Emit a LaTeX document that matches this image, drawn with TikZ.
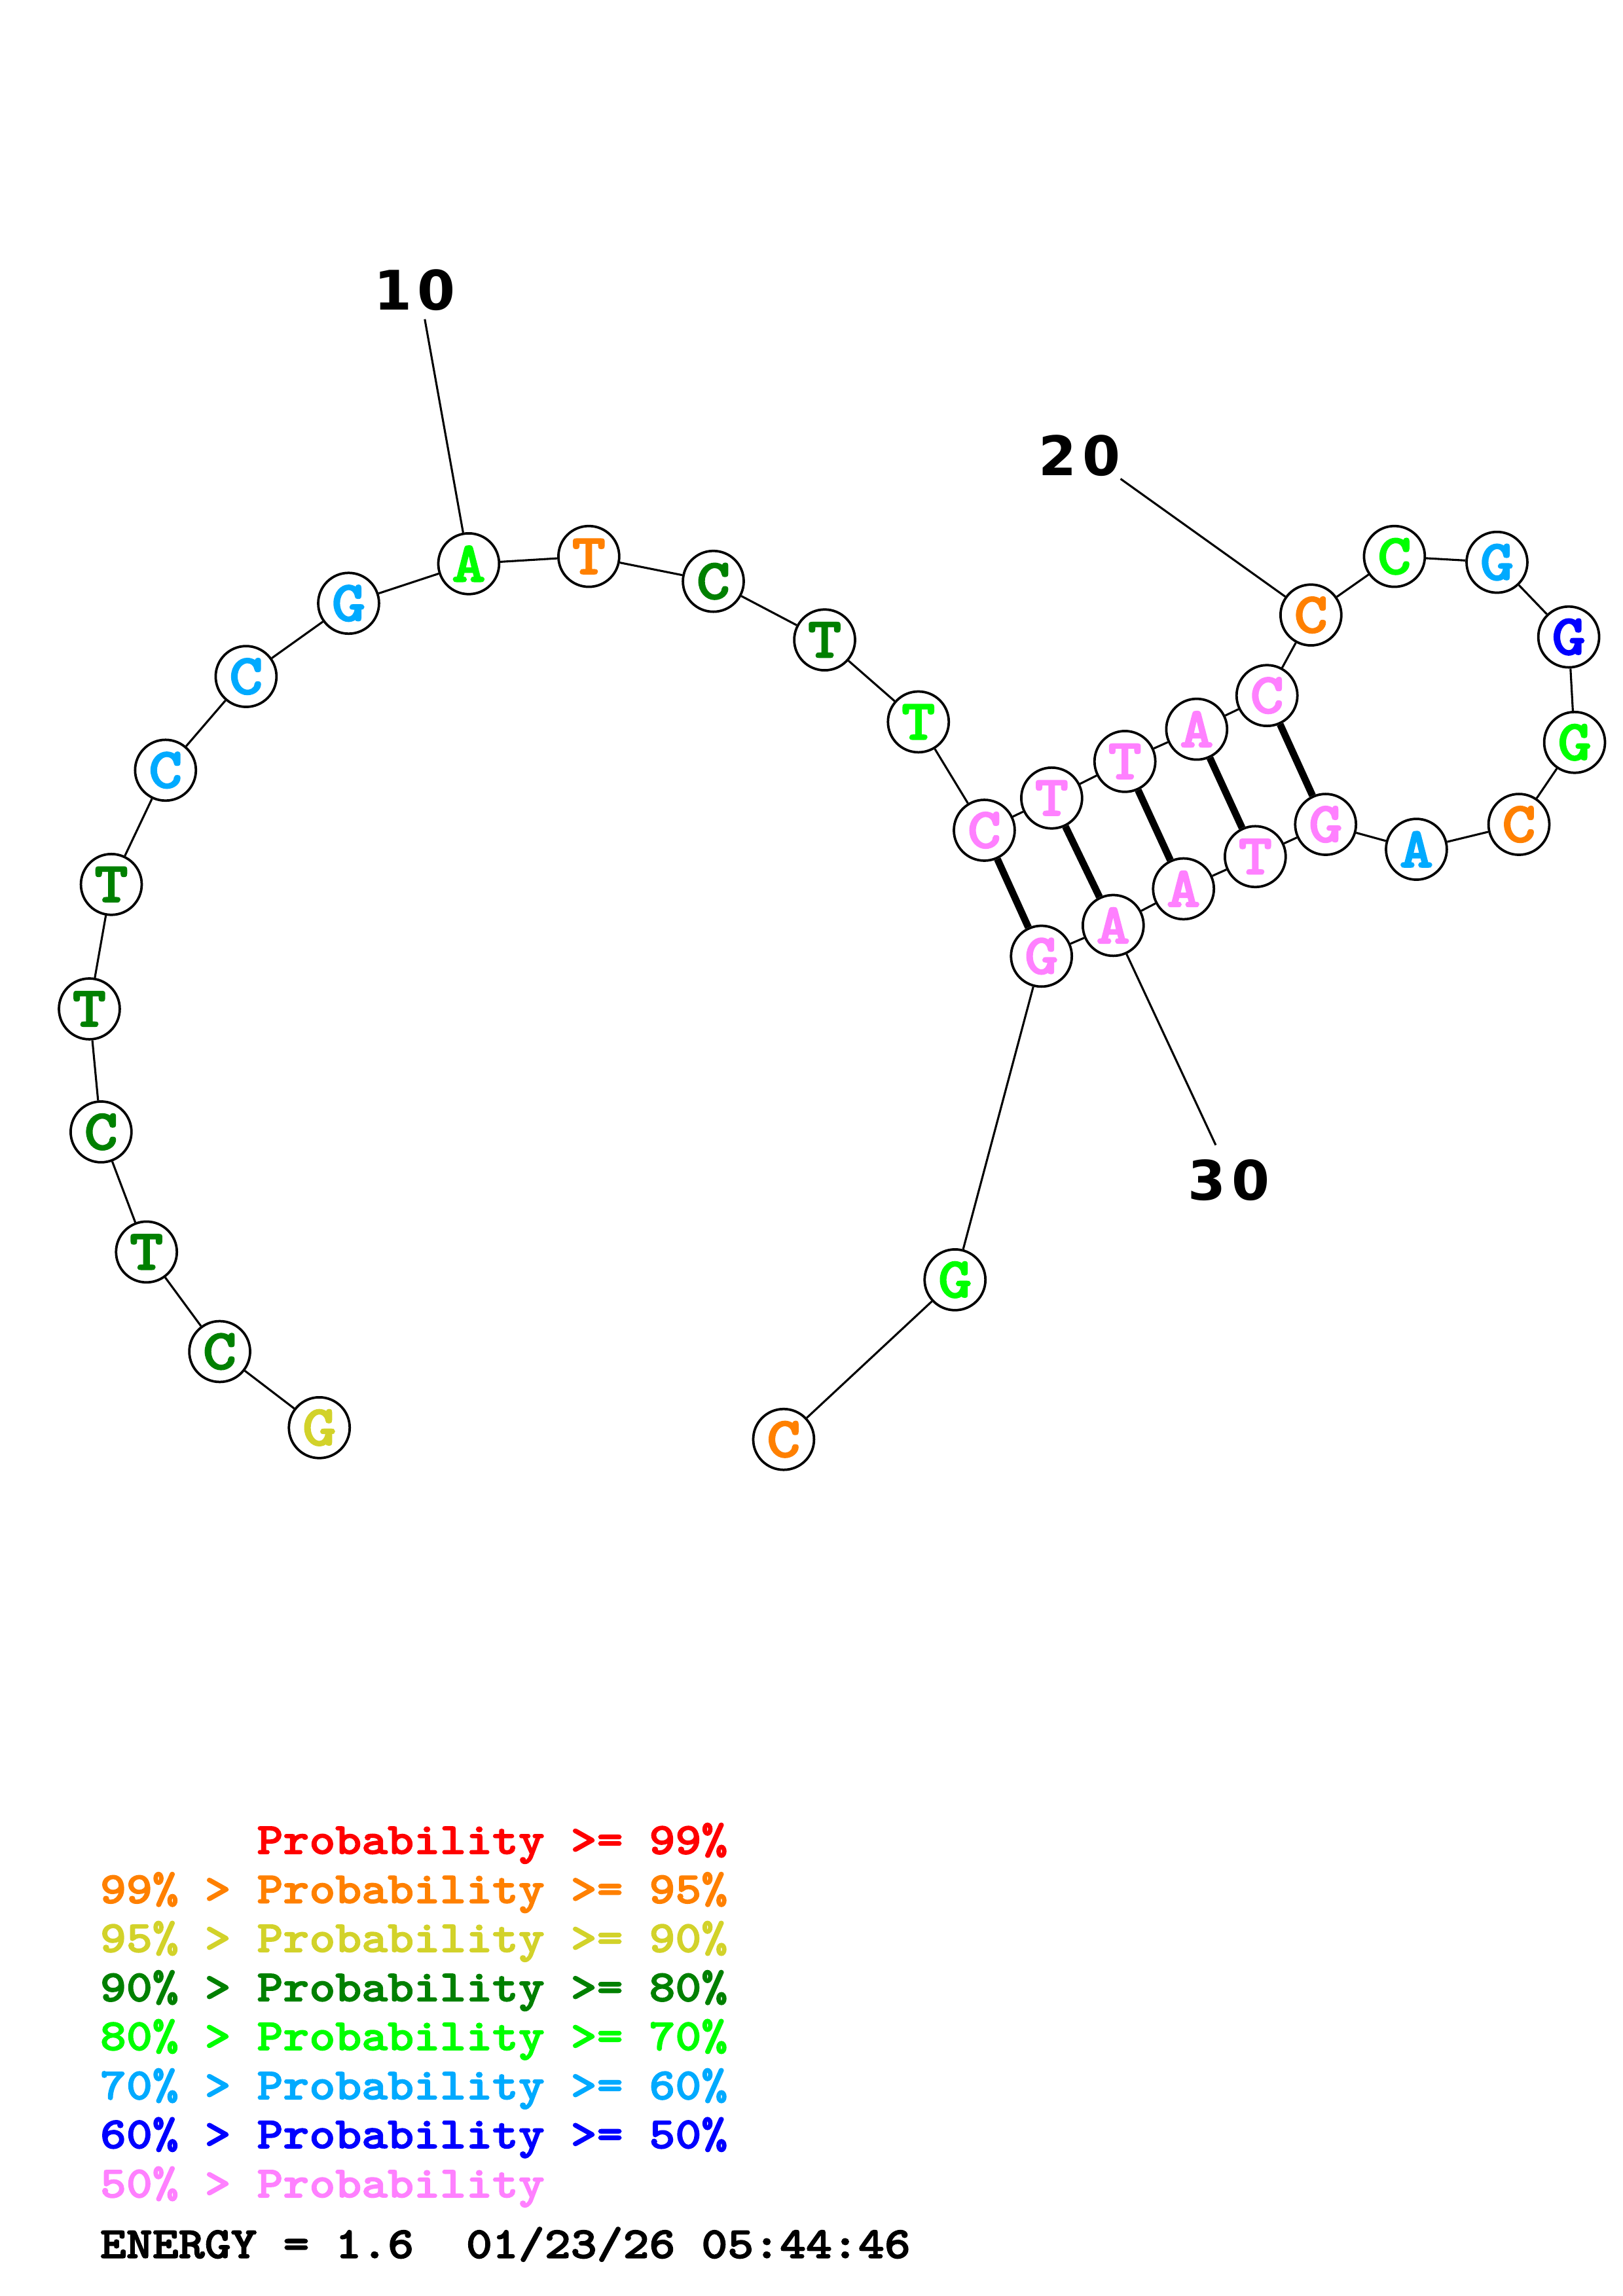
\documentclass[tikz,border=0pt]{standalone}
\usepackage{fontspec}
\newfontfamily\monof{lmmonolt10-bold.otf}[FakeStretch=1.12,FakeBold=2.2]
\newfontfamily\numf{DejaVu Sans}
\definecolor{cred}{HTML}{FF0000}
\definecolor{corange}{HTML}{FF8000}
\definecolor{cyellow}{HTML}{D2D22A}
\definecolor{cdkgreen}{HTML}{008000}
\definecolor{cgreen}{HTML}{00FF00}
\definecolor{cltblue}{HTML}{00AAFF}
\definecolor{cblue}{HTML}{0000FF}
\definecolor{cpink}{HTML}{FF80FF}
\tikzset{
  nt/.style={circle, draw=black, fill=white, line width=0.9pt, minimum size=22.3pt, inner sep=0pt,
    font=\monof\fontsize{21}{21}\selectfont},
  bb/.style={line width=0.75pt, black},
  pr/.style={line width=2.6pt, black},
  num/.style={font=\numf\bfseries\fontsize{20}{20}\selectfont, inner sep=0pt},
  leg/.style={font=\monof\fontsize{16.3}{16.3}\selectfont, anchor=base west, inner sep=0pt}
}
\begin{document}
\begin{tikzpicture}[x=0.537pt, y=-0.537pt]
\useasboundingbox (0,0) rectangle (1108,1568);
% label anchors
\coordinate (l10) at (290,218);
\coordinate (l20) at (765,327);
\coordinate (l30) at (830,782);
% nucleotides
\node[nt, text=cyellow]   (n1)  at (218,975) {G};
\node[nt, text=cdkgreen]  (n2)  at (150,923) {C};
\node[nt, text=cdkgreen]  (n3)  at (100,855) {T};
\node[nt, text=cdkgreen]  (n4)  at (69,773)  {C};
\node[nt, text=cdkgreen]  (n5)  at (61,689)  {T};
\node[nt, text=cdkgreen]  (n6)  at (76,604)  {T};
\node[nt, text=cltblue]   (n7)  at (113,526) {C};
\node[nt, text=cltblue]   (n8)  at (168,462) {C};
\node[nt, text=cltblue]   (n9)  at (238,412) {G};
\node[nt, text=cgreen]    (n10) at (320,385) {A};
\node[nt, text=corange]   (n11) at (402,380) {T};
\node[nt, text=cdkgreen]  (n12) at (487,397) {C};
\node[nt, text=cdkgreen]  (n13) at (563,437) {T};
\node[nt, text=cgreen]    (n14) at (627,493) {T};
\node[nt, text=cpink]     (n15) at (672,567) {C};
\node[nt, text=cpink]     (n16) at (718,545) {T};
\node[nt, text=cpink]     (n17) at (768,520) {T};
\node[nt, text=cpink]     (n18) at (817,498) {A};
\node[nt, text=cpink]     (n19) at (865,475) {C};
\node[nt, text=corange]   (n20) at (895,420) {C};
\node[nt, text=cgreen]    (n21) at (952,380) {C};
\node[nt, text=cltblue]   (n22) at (1022,384) {G};
\node[nt, text=cblue]     (n23) at (1071,435) {G};
\node[nt, text=cgreen]    (n24) at (1075,507) {G};
\node[nt, text=corange]   (n25) at (1037,563) {C};
\node[nt, text=cltblue]   (n26) at (967,580) {A};
\node[nt, text=cpink]     (n27) at (905,563) {G};
\node[nt, text=cpink]     (n28) at (857,585) {T};
\node[nt, text=cpink]     (n29) at (808,607) {A};
\node[nt, text=cpink]     (n30) at (760,632) {A};
\node[nt, text=cpink]     (n31) at (711,653) {G};
\node[nt, text=cgreen]    (n32) at (652,874) {G};
\node[nt, text=corange]   (n33) at (535,983) {C};
\foreach \a/\b in {1/2,2/3,3/4,4/5,5/6,6/7,7/8,8/9,9/10,10/11,11/12,12/13,13/14,14/15,15/16,16/17,17/18,18/19,19/20,20/21,21/22,22/23,23/24,24/25,25/26,26/27,27/28,28/29,29/30,30/31,31/32,32/33}
  \draw[bb] (n\a) -- (n\b);
\draw[pr] (n15) -- (n31);
\draw[pr] (n16) -- (n30);
\draw[pr] (n17) -- (n29);
\draw[pr] (n18) -- (n28);
\draw[pr] (n19) -- (n27);
\draw[bb] (l10) -- (n10);
\draw[bb] (l20) -- (n20);
\draw[bb] (l30) -- (n30);
\node[num] (t10) at (283,198) {1\kern2pt0};
\node[num] (t20) at (737,311) {2\kern2pt0};
\node[num] (t30) at (839,806) {3\kern2pt0};
% legend
\node[leg, text=cred]     (g1) at (68,1266) {\phantom{99\% > }Probability >= 99\%};
\node[leg, text=corange]  (g2) at (68,1299.6) {99\% > Probability >= 95\%};
\node[leg, text=cyellow]  (g3) at (68,1333) {95\% > Probability >= 90\%};
\node[leg, text=cdkgreen] (g4) at (68,1366.6) {90\% > Probability >= 80\%};
\node[leg, text=cgreen]   (g5) at (68,1400) {80\% > Probability >= 70\%};
\node[leg, text=cltblue]  (g6) at (68,1433.6) {70\% > Probability >= 60\%};
\node[leg, text=cblue]    (g7) at (68,1467) {60\% > Probability >= 50\%};
\node[leg, text=cpink]    (g8) at (68,1500.6) {50\% > Probability};
\node[leg, text=black]    (g9) at (68,1542) {ENERGY = 1.6\ \ 01/23/26 05:44:46};
\end{tikzpicture}
\end{document}
